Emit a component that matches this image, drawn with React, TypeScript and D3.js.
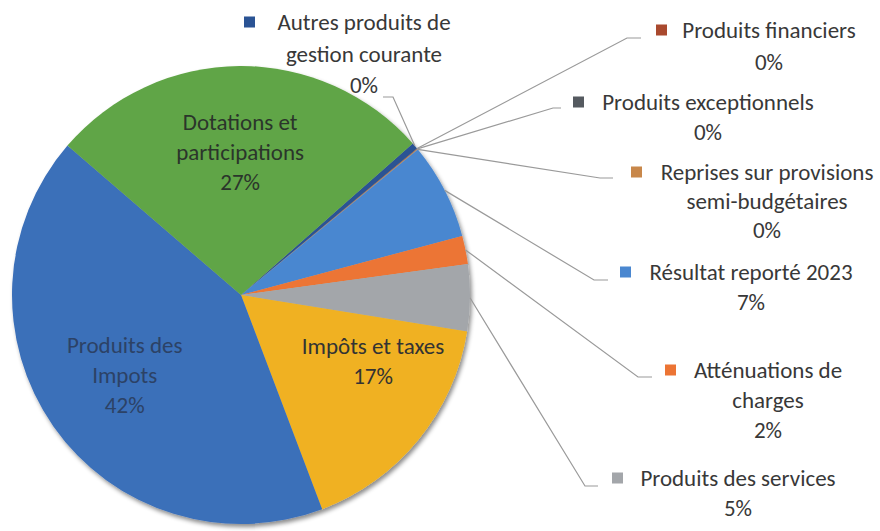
import React from "react";
import * as d3 from "d3";

const categories = [
  "Autres produits de gestion courante",
  "Produits financiers",
  "Produits exceptionnels",
  "Reprises sur provisions semi-budgétaires",
  "Résultat reporté 2023",
  "Atténuations de charges",
  "Produits des services",
  "Impôts et taxes",
  "Produits des Impots",
  "Dotations et participations",
];
const values = [0.45, 0.02, 0.03, 0.05, 6.8, 2.0, 4.7, 16.7, 42.1, 27.2];
const colors = [
  "#2a5394",
  "#a9492e",
  "#555a60",
  "#c8874a",
  "#4a87d0",
  "#ec7434",
  "#a3a6aa",
  "#f0b120",
  "#3b6fb9",
  "#60a546",
];
// label line breaks (text only)
const labelLines = [
  ["Autres produits de", "gestion courante"],
  ["Produits financiers"],
  ["Produits exceptionnels"],
  ["Reprises sur provisions", "semi-budgétaires"],
  ["Résultat reporté 2023"],
  ["Atténuations de", "charges"],
  ["Produits des services"],
  ["Impôts et taxes"],
  ["Produits des", "Impots"],
  ["Dotations et", "participations"],
];

// layout (not data)
const W = 880;
const H = 531;
const CX = 241;
const CY = 295;
const R = 229;
const START_DEG = 48.6;

type Outside = {
  cx: number;
  y: number;
  lh: number;
  markerX: number;
  elbow: [number, number];
  end: [number, number];
};
const outsideLayout: (Outside | null)[] = [
  { cx: 364, y: 22, lh: 31.5, markerX: 244, elbow: [393, 97], end: [383, 97] },
  { cx: 769, y: 30, lh: 32, markerX: 656, elbow: [627, 38], end: [641, 38] },
  { cx: 708, y: 102, lh: 30, markerX: 573, elbow: [553, 108], end: [561, 108] },
  { cx: 767, y: 172, lh: 29, markerX: 631, elbow: [600, 178], end: [613, 178] },
  { cx: 751, y: 272, lh: 30, markerX: 620, elbow: [594, 280], end: [608, 280] },
  { cx: 768, y: 370, lh: 30, markerX: 665, elbow: [638, 377], end: [652, 377] },
  { cx: 738, y: 478, lh: 30, markerX: 612, elbow: [585, 486], end: [598, 486] },
  null,
  null,
  null,
];
const insideOffset: ([number, number] | null)[] = [
  null, null, null, null, null, null, null,
  [22, -24],
  [0, -2],
  [0, -1],
];
const insideColor = ["", "", "", "", "", "", "", "#333333", "#2c4266", "#2b352b"];

const FONT = "Carlito, Calibri, Lato, 'Noto Sans', sans-serif";
const FS = 23;
const TEXT = "#383838";

export default function App() {
  const total = d3.sum(values);
  const start = (START_DEG * Math.PI) / 180;
  const pie = d3
    .pie<number>()
    .sort(null)
    .value((d) => d)
    .startAngle(start)
    .endAngle(start + 2 * Math.PI);
  const arcs = pie(values);
  const arc = d3.arc<d3.PieArcDatum<number>>().innerRadius(0).outerRadius(R);
  const labelArc = d3
    .arc<d3.PieArcDatum<number>>()
    .innerRadius(R * 0.62)
    .outerRadius(R * 0.62);
  const pct = (v: number) => `${Math.round((v / total) * 100)}%`;

  return (
    <svg
      width={W}
      height={H}
      style={{ position: "absolute", left: 0, top: 0, background: "#fff" }}
      fontFamily={FONT}
    >
      <defs>
        <filter id="sh" x="-10%" y="-10%" width="130%" height="130%">
          <feDropShadow dx="2" dy="3" stdDeviation="2" floodColor="#000" floodOpacity="0.45" />
        </filter>
      </defs>
      <g transform={`translate(${CX},${CY})`} filter="url(#sh)">
        {arcs.map((a, i) => (
          <path key={i} d={arc(a) || ""} fill={colors[i]} />
        ))}
      </g>
      {/* leader lines */}
      {arcs.map((a, i) => {
        const lay = outsideLayout[i];
        if (!lay) return null;
        const mid = (a.startAngle + a.endAngle) / 2;
        const px = CX + R * Math.sin(mid);
        const py = CY - R * Math.cos(mid);
        const pts = `${px},${py} ${lay.elbow[0]},${lay.elbow[1]} ${lay.end[0]},${lay.end[1]}`;
        return (
          <polyline key={"l" + i} points={pts} fill="none" stroke="#9a9a9a" strokeWidth={1.2} />
        );
      })}
      {/* outside labels */}
      {arcs.map((a, i) => {
        const lay = outsideLayout[i];
        if (!lay) return null;
        const lines = [...labelLines[i], pct(values[i])];
        return (
          <g key={"t" + i}>
            <rect x={lay.markerX} y={lay.y - 5.5} width={11} height={11} fill={colors[i]} />
            {lines.map((t, j) => (
              <text
                key={j}
                x={lay.cx}
                y={lay.y + j * lay.lh}
                dy="0.35em"
                textAnchor="middle"
                fontSize={FS}
                fill={TEXT}
              >
                {t}
              </text>
            ))}
          </g>
        );
      })}
      {/* inside labels */}
      {arcs.map((a, i) => {
        const off = insideOffset[i];
        if (!off) return null;
        const [x, y] = labelArc.centroid(a);
        const lines = [...labelLines[i], pct(values[i])];
        const lh = 30;
        const y0 = CY + y + off[1] - ((lines.length - 1) * lh) / 2;
        return (
          <g key={"in" + i}>
            {lines.map((t, j) => (
              <text
                key={j}
                x={CX + x + off[0]}
                y={y0 + j * lh}
                dy="0.35em"
                textAnchor="middle"
                fontSize={FS}
                fill={insideColor[i]}
              >
                {t}
              </text>
            ))}
          </g>
        );
      })}
    </svg>
  );
}
